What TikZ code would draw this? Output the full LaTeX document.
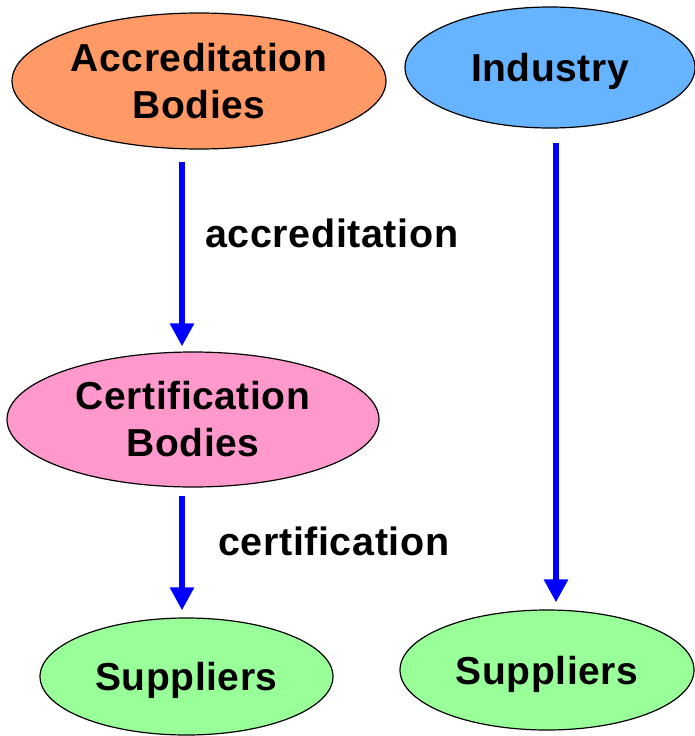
\documentclass[tikz,border=0pt]{standalone}
\usepackage{fontspec}
\setmainfont{Liberation Sans}[LetterSpace=1.5]
\usetikzlibrary{shapes.geometric,arrows.meta}
\definecolor{orangefill}{RGB}{255,153,102}
\definecolor{bluefill}{RGB}{102,179,255}
\definecolor{pinkfill}{RGB}{255,153,204}
\definecolor{greenfill}{RGB}{153,255,153}
\definecolor{arrowblue}{RGB}{0,0,255}
\tikzset{
  oval/.style={ellipse, draw=black, line width=1.2pt, inner sep=0pt, align=center,
    font=\fontsize{39}{47}\selectfont\bfseries},
  arr/.style={draw=arrowblue, line width=6pt, -{Triangle[width=23pt,length=23pt]}},
  lbl/.style={inner sep=0pt, anchor=base west, font=\fontsize{39.5}{47}\selectfont\bfseries}
}
\begin{document}
\begin{tikzpicture}[x=1pt,y=-1pt]
\useasboundingbox (0,0) rectangle (695,736);
\fill[white] (0,0) rectangle (695,736);
\node[oval, fill=orangefill, minimum width=374pt, minimum height=136pt] (acc) at (199,81) {Accreditation\\Bodies};
\node[oval, fill=bluefill, minimum width=290pt, minimum height=121pt, text depth=0pt] (ind) at (550,67.5) {Industry};
\node[oval, fill=pinkfill, minimum width=372pt, minimum height=135pt] (cert) at (193,419.5) {Certification\\Bodies};
\node[oval, fill=greenfill, minimum width=293pt, minimum height=117pt, text depth=0pt] (supl) at (186.5,676.5) {Suppliers};
\node[oval, fill=greenfill, minimum width=294pt, minimum height=120pt, text depth=0pt] (supr) at (547,670) {Suppliers};
\draw[arr] ([xshift=-17,yshift=-12]acc.south) -- ([xshift=-11,yshift=5]cert.north);
\draw[arr] ([xshift=-11,yshift=-8]cert.south) -- ([xshift=-4.5,yshift=7]supl.north);
\draw[arr] ([xshift=6,yshift=-14]ind.south) -- ([xshift=9,yshift=7]supr.north);
\node[lbl] (l1) at (205,247) {accreditation};
\node[lbl] (l2) at (218,555) {certification};
\end{tikzpicture}
\end{document}
